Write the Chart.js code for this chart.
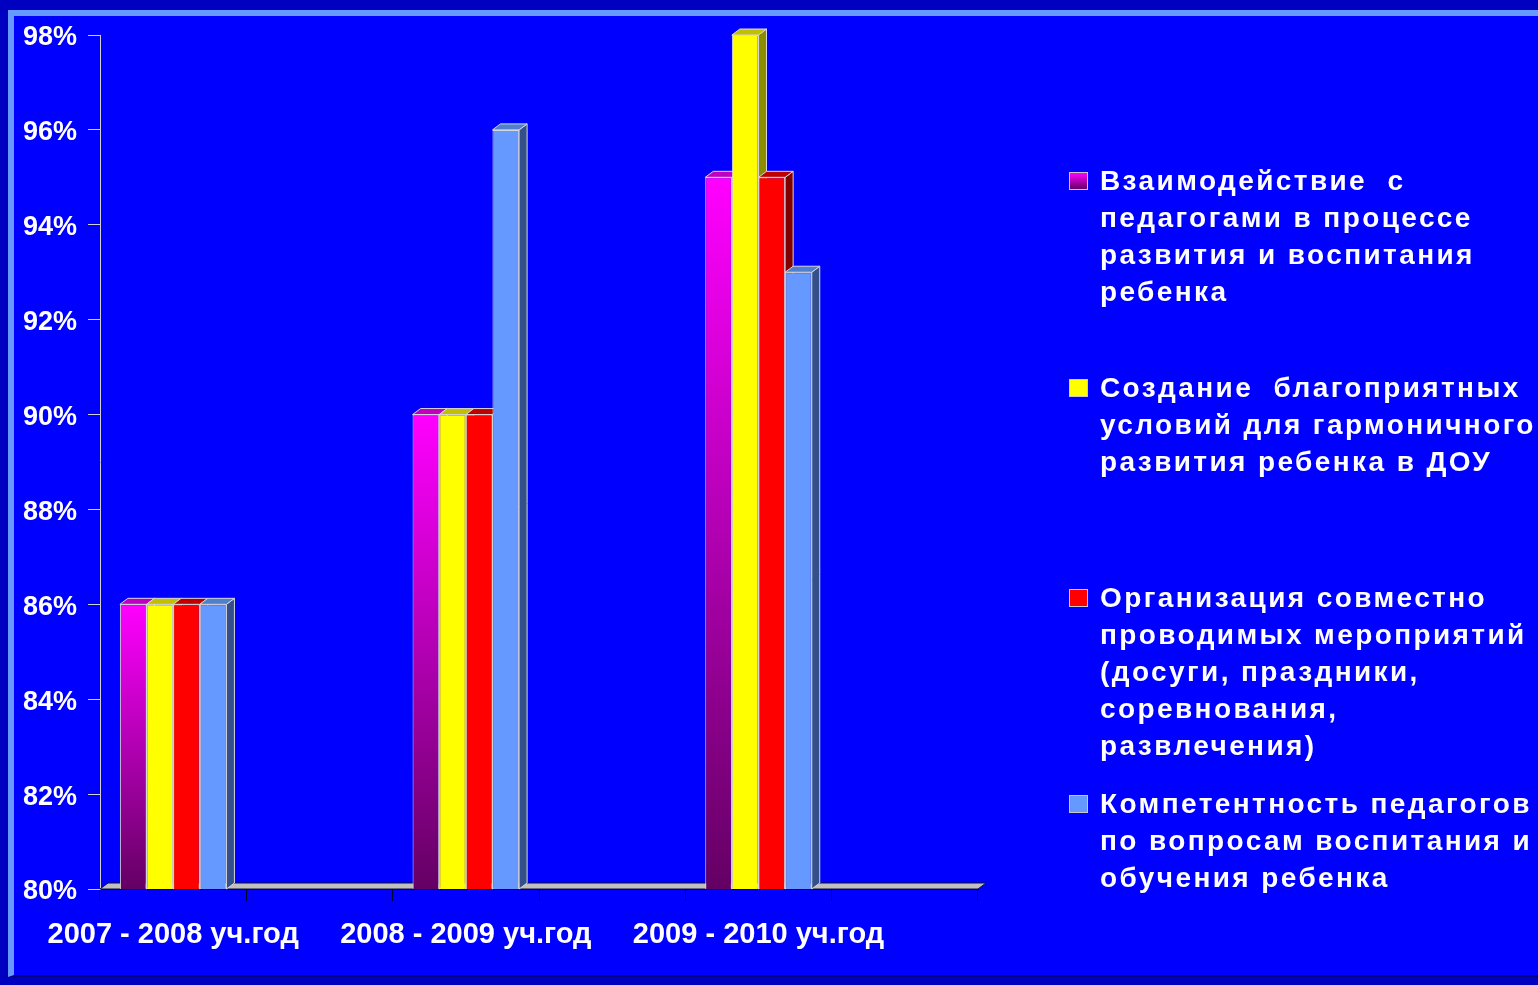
<!DOCTYPE html>
<html>
<head>
<meta charset="utf-8">
<script src="https://cdn.jsdelivr.net/npm/chart.js@4/dist/chart.umd.min.js"></script>
<style>
	body { margin: 0; width: 1538px; height: 985px; overflow: hidden; position: relative; background: #0000c0; font-family: "Liberation Sans", Arial, sans-serif; }
	#marco { position: absolute; left: 8px; top: 10px; width: 1524px; height: 959px; background: #0000ff; border-top: 6px solid #6699ff; border-left: 6px solid #6699ff; border-right: 2px solid #000080; border-bottom: 2px solid #000080; }
	#grafico { position: absolute; left: 0; top: 0; }
	#leyenda { position: absolute; left: 0; top: 0; }
	.item { position: absolute; left: 1069px; }
	.cuadro { position: absolute; left: 0; top: 10px; width: 17px; height: 16px; border: 1px solid #c8c8c8; }
	.texto { position: absolute; left: 31px; top: 0; color: #ffffff; font-weight: bold; font-size: 28px; letter-spacing: 2.4px; line-height: 37px; white-space: pre; }
</style>
</head>
<body>
<div id="marco"></div>
<canvas id="grafico" width="1538" height="985"></canvas>
<div id="leyenda"></div>
<script>
var categorias = ["2007 - 2008 уч.год", "", "2008 - 2009 уч.год", "", "2009 - 2010 уч.год", ""];
var interaccion = [86, null, 90, null, 95, null];
var condiciones = [86, null, 90, null, 98, null];
var actividades = [86, null, 90, null, 95, null];
var competencia = [86, null, 96, null, 93, null];
var ticksY = [80, 82, 84, 86, 88, 90, 92, 94, 96, 98];

var nombres = [
	["Взаимодействие  с", "педагогами в процессе", "развития и воспитания", "ребенка"],
	["Создание  благоприятных", "условий для гармоничного", "развития ребенка в ДОУ"],
	["Организация совместно", "проводимых мероприятий", "(досуги, праздники,", "соревнования,", "развлечения)"],
	["Компетентность педагогов", "по вопросам воспитания и", "обучения ребенка"]
];

var frentes = ["#ff00ff", "#ffff00", "#ff0000", "#6699ff"];
var techos = ["#c000c0", "#c0c000", "#c00000", "#4f7fcf"];
var lados = ["#800080", "#8c8c00", "#800000", "#33508a"];
var cuadros = ["linear-gradient(#ff00ff, #660066)", "#ffff00", "#ff0000", "#6699ff"];
var posLeyenda = [162, 369, 579, 785];

var prof = { x: 8, y: 6 };

function degradado(context)
{
	var chart = context.chart;
	if(!chart.chartArea || !chart.scales.y || context.raw == null)
		return "#ff00ff";
	var arriba = chart.scales.y.getPixelForValue(context.raw);
	var g = chart.ctx.createLinearGradient(0, arriba, 0, chart.chartArea.bottom);
	g.addColorStop(0, "#ff00ff");
	g.addColorStop(1, "#640064");
	return g;
}

function poligono(ctx, puntos, color)
{
	ctx.beginPath();
	ctx.moveTo(puntos[0][0], puntos[0][1]);
	for(var i=1; i<puntos.length; i++)
		ctx.lineTo(puntos[i][0], puntos[i][1]);
	ctx.closePath();
	ctx.fillStyle = color;
	ctx.fill();
	ctx.stroke();
}

var tresD = {
	id: "tresD",
	beforeDatasetsDraw: function(chart)
	{
		var ctx = chart.ctx;
		var area = chart.chartArea;
		var piso = area.bottom;
		ctx.save();
		ctx.lineWidth = 1;

		// piso gris
		ctx.strokeStyle = "#101030";
		poligono(ctx, [[area.left, piso], [area.right, piso], [area.right + prof.x, piso - prof.y], [area.left + prof.x, piso - prof.y]], "#c0c0c0");

		ctx.strokeStyle = "#d8d8d8";
		for(var i=0; i<categorias.length; i++)
		{
			for(var d=0; d<chart.data.datasets.length; d++)
			{
				if(chart.data.datasets[d].data[i] == null)
					continue;
				var barra = chart.getDatasetMeta(d).data[i];
				var p = barra.getProps(["x", "y", "width"], true);
				var x0 = p.x - p.width/2;
				var x1 = p.x + p.width/2;
				poligono(ctx, [[x1, p.y], [x1 + prof.x, p.y - prof.y], [x1 + prof.x, piso - prof.y], [x1, piso]], lados[d]);
				poligono(ctx, [[x0, p.y], [x0 + prof.x, p.y - prof.y], [x1 + prof.x, p.y - prof.y], [x1, p.y]], techos[d]);
			}
		}
		ctx.restore();
	}
};

function creaLeyenda()
{
	var html = "";
	for(var i=0; i<nombres.length; i++)
	{
		html += "<div class='item' style='top:" + posLeyenda[i] + "px'>";
		html += "<div class='cuadro' style='background:" + cuadros[i] + "'></div>";
		html += "<div class='texto'>" + nombres[i].join("\n") + "</div>";
		html += "</div>";
	}
	document.getElementById("leyenda").innerHTML = html;
}

function dataset(indice, valores)
{
	return {
		label: nombres[indice].join(" "),
		data: valores,
		backgroundColor: indice == 0 ? degradado : frentes[indice],
		borderColor: "#d8d8d8",
		borderWidth: 1,
		categoryPercentage: 0.728,
		barPercentage: 1
	};
}

Chart.defaults.font.family = "'Liberation Sans', Arial, sans-serif";

var grafico = new Chart(document.getElementById("grafico"), {
	type: "bar",
	data: {
		labels: categorias,
		datasets: [
			dataset(0, interaccion),
			dataset(1, condiciones),
			dataset(2, actividades),
			dataset(3, competencia)
		]
	},
	options: {
		responsive: false,
		animation: false,
		layout: { padding: { left: 0, top: 35, right: 560, bottom: 0 } },
		plugins: {
			legend: { display: false },
			tooltip: { enabled: false }
		},
		scales: {
			x: {
				offset: true,
				grid: { drawOnChartArea: false, drawTicks: true, tickLength: 12, color: "#000033", offset: true },
				border: { display: true, color: "#000033" },
				ticks: { color: "#ffffff", font: { size: 29, weight: "bold" }, autoSkip: false, maxRotation: 0, padding: 17 },
				afterFit: function(scale) { scale.height = 96; }
			},
			y: {
				min: 80,
				max: 98,
				beginAtZero: false,
				grid: { drawOnChartArea: false, drawTicks: true, tickLength: 12, color: "#d0d0d0" },
				border: { display: true, color: "#d0d0d0" },
				ticks: {
					color: "#ffffff",
					font: { size: 27, weight: "bold" },
					padding: 11,
					labelOffset: 3,
					callback: function(valor) { return valor + "%"; }
				},
				afterBuildTicks: function(scale)
				{
					scale.ticks = ticksY.map(function(v) { return { value: v }; });
				},
				afterFit: function(scale) { scale.width = 100; }
			}
		}
	},
	plugins: [tresD]
});

creaLeyenda();
</script>
</body>
</html>
